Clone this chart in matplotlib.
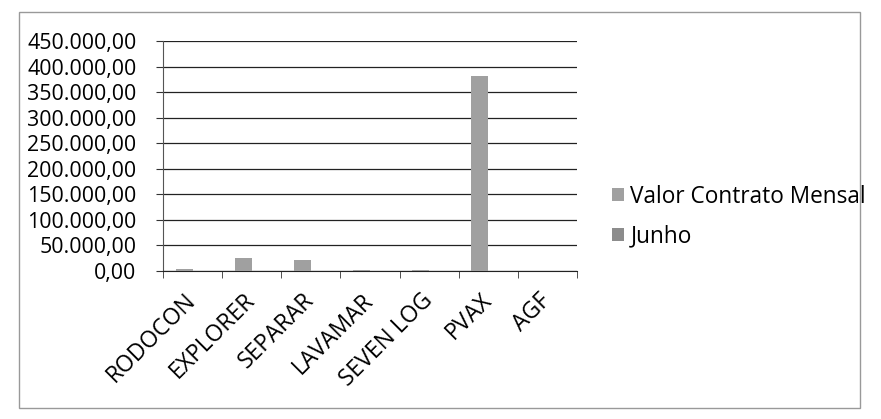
import matplotlib.pyplot as plt
from matplotlib.patches import Rectangle
from matplotlib.ticker import FuncFormatter
import numpy as np

empresas = ['RODOCON', 'EXPLORER', 'SEPARAR', 'LAVAMAR', 'SEVEN LOG', 'PVAX', 'AGF']
valor_contrato = [2500, 25000, 21000, 1500, 500, 381000, 0]
junho = [0, 0, 0, 0, 0, 0, 0]

plt.rcParams['font.family'] = ['Open Sans', 'DejaVu Sans']

fig = plt.figure(figsize=(8.81, 4.19), dpi=100)
ax = fig.add_axes([0.185, 0.354, 0.470, 0.548])

x = np.arange(len(empresas))
w = 1 / 3.5
ax.bar(x - w / 2, valor_contrato, w, color='#a0a0a0', label='Valor Contrato Mensal', zorder=3)
ax.bar(x + w / 2, junho, w, color='#8c8c8c', label='Junho', zorder=3)

ax.set_xlim(-0.5, len(empresas) - 0.5)
ax.set_ylim(0, 450000)
ax.set_yticks(np.arange(0, 450001, 50000))
ax.yaxis.set_major_formatter(FuncFormatter(
    lambda v, p: '{:,.2f}'.format(v).replace(',', 'X').replace('.', ',').replace('X', '.')))
ax.grid(axis='y', color='#222222', linewidth=0.9, zorder=0)

ax.set_xticks(x)
ax.set_xticklabels(empresas, rotation=45, ha='right', va='center',
                   rotation_mode='anchor', fontsize=16.5)
ax.set_xticks(np.arange(-0.5, len(empresas)), minor=True)
ax.tick_params(axis='x', which='major', length=0, pad=19)
ax.tick_params(axis='x', which='minor', length=5, color='#333333')
ax.tick_params(axis='y', length=5, labelsize=15.4, color='#333333', pad=14)

for s in ['top', 'right']:
    ax.spines[s].set_visible(False)
ax.spines['left'].set_color('#555555')
ax.spines['bottom'].set_color('#222222')

leg = ax.legend(loc='center left', bbox_to_anchor=(1.085, 0.235), frameon=False,
                fontsize=16.3, handlelength=0.5, handleheight=0.5,
                handletextpad=0.3, labelspacing=0.7, borderpad=0, borderaxespad=0)

fig.patches.append(Rectangle((0.021, 0.026), 0.955, 0.946, transform=fig.transFigure,
                             fill=False, edgecolor='#999999', linewidth=1))

fig.savefig('out.png', dpi=100)
